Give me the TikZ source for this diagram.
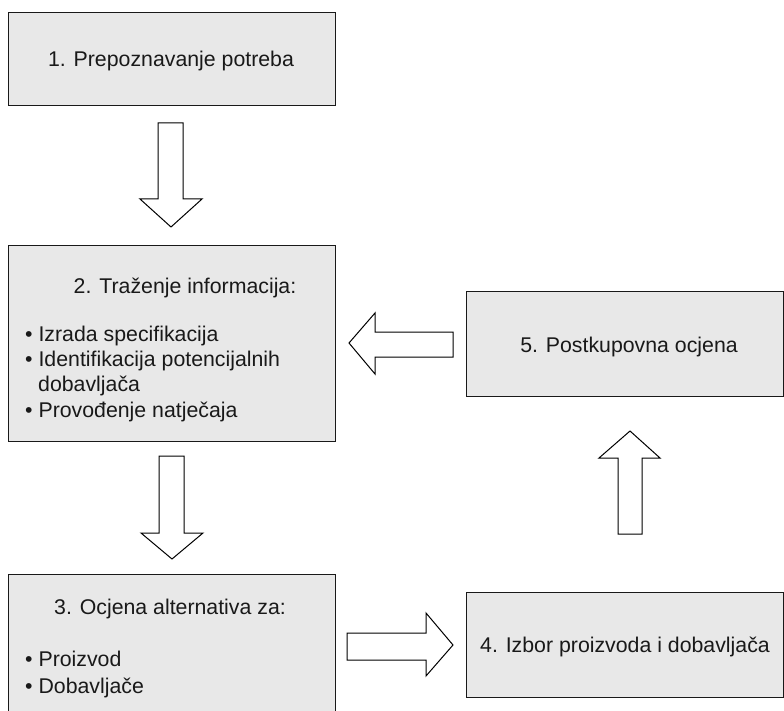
\documentclass[tikz,border=0pt]{standalone}
\usepackage{fontspec}
\setmainfont{Liberation Sans}
\definecolor{boxfill}{RGB}{232,232,232}
\begin{document}
\begin{tikzpicture}[x=1pt,y=-1pt,
  box/.style={draw=black!90, line width=1.3pt, fill=boxfill, inner sep=0pt, anchor=north west},
  blk/.style={draw=black, line width=1pt, fill=white, line join=miter},
  txt/.style={inner sep=0pt, font=\fontsize{21.3}{25.5}\selectfont, text=black!90}]
\useasboundingbox (0,0) rectangle (784,711);
\clip (0,0) rectangle (784,711);

% boxes
\node[box, minimum width=327pt, minimum height=93pt]  (b1) at (8,12)  {};
\node[box, minimum width=327pt, minimum height=196pt] (b2) at (8,245) {};
\node[box, minimum width=327pt, minimum height=156pt] (b3) at (8,574) {};
\node[box, minimum width=317pt, minimum height=105pt] (b4) at (466,592) {};
\node[box, minimum width=317pt, minimum height=105pt] (b5) at (466,291) {};

% texts
\node[txt, anchor=base] (t1) at (171,67) {1. Prepoznavanje potreba};

\node[txt, anchor=base] (t2) at (185,293) {2. Traženje informacija:};
\node[txt, anchor=base west] (t2a) at (25,341) {• Izrada specifikacija};
\node[txt, anchor=base west] (t2b) at (25,366) {• Identifikacija potencijalnih};
\node[txt, anchor=base west] (t2c) at (38,391) {dobavljača};
\node[txt, anchor=base west] (t2d) at (25,417) {• Provođenje natječaja};

\node[txt, anchor=base] (t3) at (170,614) {3. Ocjena alternativa za:};
\node[txt, anchor=base west] (t3a) at (25,666) {• Proizvod};
\node[txt, anchor=base west] (t3b) at (25,693) {• Dobavljače};

\node[txt, anchor=base] (t4) at (625,652) {4. Izbor proizvoda i dobavljača};
\node[txt, anchor=base] (t5) at (629,352) {5. Postkupovna ocjena};

% block arrows
\draw[blk] (158,123) -- (183,123) -- (183,199) -- (202,199) -- (171,227)
  -- (140,199) -- (158,199) -- cycle;
\draw[blk] (159,456) -- (184,456) -- (184,533) -- (203,533) -- (172,559)
  -- (141,533) -- (159,533) -- cycle;
\draw[blk] (453,332) -- (375,332) -- (375,313) -- (349,343) -- (375,374)
  -- (375,357) -- (453,357) -- cycle;
\draw[blk] (347,633) -- (426,633) -- (426,613) -- (453,645) -- (426,676)
  -- (426,660) -- (347,660) -- cycle;
\draw[blk] (618,534) -- (618,458) -- (599,458) -- (630,431) -- (660,458)
  -- (642,458) -- (642,534) -- cycle;
\end{tikzpicture}
\end{document}
